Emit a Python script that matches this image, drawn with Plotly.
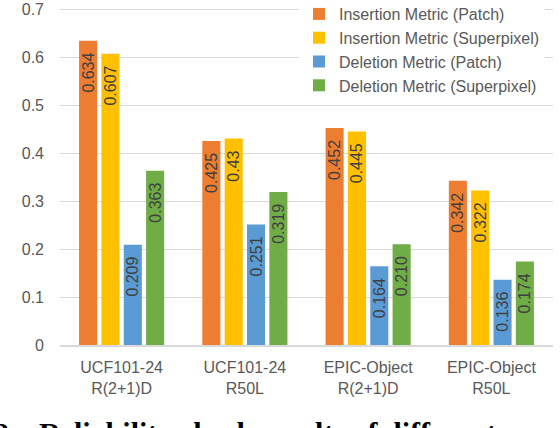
import plotly.graph_objects as go

categories = ["UCF101-24<br>R(2+1)D", "UCF101-24<br>R50L", "EPIC-Object<br>R(2+1)D", "EPIC-Object<br>R50L"]
series_names = ["Insertion Metric (Patch)", "Insertion Metric (Superpixel)",
                "Deletion Metric (Patch)", "Deletion Metric (Superpixel)"]
ins_patch = [0.634, 0.425, 0.452, 0.342]
ins_superpixel = [0.607, 0.43, 0.445, 0.322]
del_patch = [0.209, 0.251, 0.164, 0.136]
del_superpixel = [0.363, 0.319, 0.210, 0.174]
ins_patch_labels = ["0.634", "0.425", "0.452", "0.342"]
ins_superpixel_labels = ["0.607", "0.43", "0.445", "0.322"]
del_patch_labels = ["0.209", "0.251", "0.164", "0.136"]
del_superpixel_labels = ["0.363", "0.319", "0.210", "0.174"]
y_ticks = [0, 0.1, 0.2, 0.3, 0.4, 0.5, 0.6, 0.7]
y_tick_labels = ["0", "0.1", "0.2", "0.3", "0.4", "0.5", "0.6", "0.7"]
caption = "2.\u00a0\u00a0\u00a0Reliability check results of different scenarios"

colors = ["#ED7D31", "#FFC000", "#5B9BD5", "#70AD47"]
values = [ins_patch, ins_superpixel, del_patch, del_superpixel]
labels = [ins_patch_labels, ins_superpixel_labels, del_patch_labels, del_superpixel_labels]

fig = go.Figure()
for name, vals, labs, col in zip(series_names, values, labels, colors):
    fig.add_trace(go.Bar(
        x=categories, y=vals, name=name,
        marker=dict(color=col, line=dict(width=0)),
        text=[l + "\u00a0\u00a0" for l in labs],
        textposition="inside", insidetextanchor="end", textangle=-90,
        insidetextfont=dict(family="Liberation Sans, Arial", size=16, color="#404040"),
        cliponaxis=False,
    ))

W, H = 560, 428
L, R, T, B = 60, 7, 7, 83
plot_w = W - L - R
plot_h = H - T - B
y_top = 0.7 * plot_h / (plot_h - 2)  # keeps the 0.7 gridline just inside the plot


def py(pix):
    """page pixel row -> paper y"""
    return (H - B - pix) / plot_h


def px(pix):
    """page pixel column -> paper x"""
    return (pix - L) / plot_w


fig.update_layout(
    width=W, height=H,
    margin=dict(l=L, r=R, t=T, b=B, autoexpand=False),
    paper_bgcolor="white", plot_bgcolor="white",
    barmode="group", bargap=0.275, bargroupgap=0.19,
    font=dict(family="Liberation Sans, Arial", size=16, color="#595959"),
    uniformtext=dict(minsize=16, mode="show"),
    showlegend=True,
    legend=dict(
        x=px(299), y=py(-3), xanchor="left", yanchor="top",
        bgcolor="white", font=dict(size=16, color="#595959"),
        traceorder="normal", itemclick=False,
    ),
    xaxis=dict(
        showline=True, linecolor="#D9D9D9", linewidth=2,
        showgrid=False, ticks="", ticklabelstandoff=7,
        tickfont=dict(size=16, color="#595959"),
    ),
    yaxis=dict(
        range=[0, y_top], tickvals=y_ticks, ticktext=y_tick_labels,
        showgrid=True, gridcolor="#D9D9D9", gridwidth=1, zeroline=False,
        showline=False, ticks="", ticklabelstandoff=15,
        tickfont=dict(size=16, color="#595959"),
    ),
    annotations=[dict(
        text="<b>" + caption + "</b>", xref="paper", yref="paper",
        x=px(-8.5), y=py(414),
        xanchor="left", yanchor="top", showarrow=False,
        font=dict(family="Liberation Serif, Times New Roman", size=30, color="black"),
    )],
)

fig.write_html("out.html", config={"displayModeBar": False},
               post_script="document.body.style.margin='0';")
